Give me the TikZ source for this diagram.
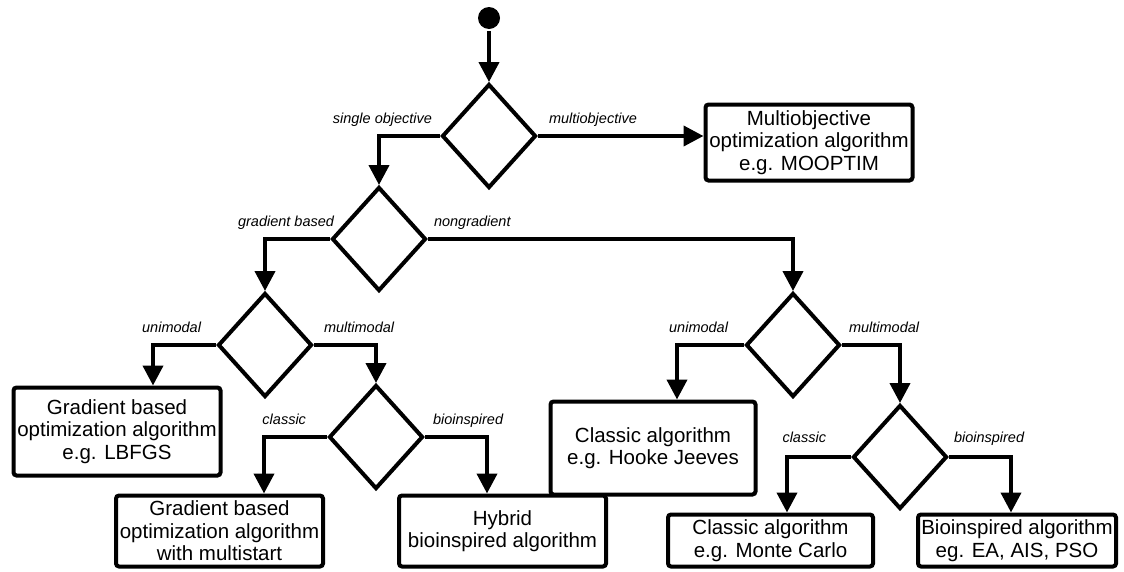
\documentclass[tikz,border=0pt]{standalone}
\usepackage{fontspec}
\setmainfont{Liberation Sans}
\usetikzlibrary{shapes.geometric,arrows.meta,positioning}

\begin{document}
\begin{tikzpicture}[x=1pt, y=-1pt, line width=4pt,
        decision/.style={diamond, draw, minimum width=94pt, minimum height=104pt, inner sep=0pt},
        algo/.style={rectangle, draw, rounded corners=3pt, align=center, inner sep=0pt,
            font=\fontsize{20.5}{22.5}\selectfont},
        branch/.style={font=\itshape\fontsize{14.5}{16}\selectfont, inner sep=0pt,
            text height=11pt, text depth=3.5pt},
        flow/.style={-{Triangle[length=20pt, width=20pt]}}]
    \useasboundingbox (0,0) rectangle (1124,571);

    % start and decisions
    \node[circle, fill, minimum size=22pt, inner sep=0pt] (start) at (489,18) {};
    \node[decision] (dobj) at (489,136) {};
    \node[decision] (dgrad) at (379,239) {};
    \node[decision] (dmodg) at (265,345) {};
    \node[decision] (dalgg) at (376,437) {};
    \node[decision] (dmodn) at (793,345) {};
    \node[decision] (dalgn) at (900,457) {};

    % algorithms
    \node[algo, minimum width=207pt, minimum height=76pt] (mo) at (809,142.5)
        {Multiobjective\\optimization algorithm\\e.g. MOOPTIM};
    \node[algo, minimum width=207pt, minimum height=88pt] (gl) at (117,431.5)
        {Gradient based\\optimization algorithm\\e.g. LBFGS};
    \node[algo, minimum width=207pt, minimum height=71pt] (gm) at (219.5,531)
        {Gradient based\\optimization algorithm\\with multistart};
    \node[algo, minimum width=207pt, minimum height=71pt] (hy) at (502.5,531)
        {Hybrid\\bioinspired algorithm};
    \node[algo, minimum width=205pt, minimum height=93pt] (hj) at (653,448)
        {Classic algorithm\\e.g. Hooke Jeeves};
    \node[algo, minimum width=205pt, minimum height=52pt] (mc) at (770.5,540.5)
        {Classic algorithm\\e.g. Monte Carlo};
    \node[algo, minimum width=198pt, minimum height=52pt] (bi) at (1017,540.5)
        {Bioinspired algorithm\\eg. EA, AIS, PSO};

    % arrow ends on the boxes
    \coordinate (moin) at (mo.west |- dobj.east);
    \coordinate (glin) at ([xshift=36pt]gl.north);
    \coordinate (gmin) at ([xshift=44.5pt]gm.north);
    \coordinate (hyin) at ([xshift=-15.5pt]hy.north);
    \coordinate (hjin) at ([xshift=24pt]hj.north);
    \coordinate (mcin) at ([xshift=16.5pt]mc.north);
    \coordinate (biin) at ([xshift=-6pt]bi.north);

    % connectors
    \draw[flow] (start) -- (dobj);
    \draw[flow] (dobj.west) -| (dgrad);
    \draw[flow] (dobj.east) -- (moin);
    \draw[flow] (dgrad.west) -| (dmodg);
    \draw[flow] (dgrad.east) -| (dmodn);
    \draw[flow] (dmodg.west) -| (glin);
    \draw[flow] (dmodg.east) -| (dalgg);
    \draw[flow] (dalgg.west) -| (gmin);
    \draw[flow] (dalgg.east) -| (hyin);
    \draw[flow] (dmodn.west) -| (hjin);
    \draw[flow] (dmodn.east) -| (dalgn);
    \draw[flow] (dalgn.west) -| (mcin);
    \draw[flow] (dalgn.east) -| (biin);

    % branch labels
    \node[branch, above left=7.5pt and 6pt of dobj.west] (lsingle) {single objective};
    \node[branch, above right=7.5pt and 9pt of dobj.east] (lmulti) {multiobjective};
    \node[branch, above left=7.5pt and -6pt of dgrad.west] (lgrad) {gradient based};
    \node[branch, above right=7.5pt and 4pt of dgrad.east] (lnongrad) {nongradient};
    \node[branch, above left=7.5pt and 13pt of dmodg.west] (lunig) {unimodal};
    \node[branch, above right=7.5pt and 8pt of dmodg.east] (lmultig) {multimodal};
    \node[branch, above left=7.5pt and 19pt of dalgg.west] (lclassg) {classic};
    \node[branch, above right=7.5pt and 6pt of dalgg.east] (lbiog) {bioinspired};
    \node[branch, above left=7.5pt and 14pt of dmodn.west] (lunin) {unimodal};
    \node[branch, above right=7.5pt and 5pt of dmodn.east] (lmultin) {multimodal};
    \node[branch, above left=9pt and 23pt of dalgn.west] (lclassn) {classic};
    \node[branch, above right=9pt and 3pt of dalgn.east] (lbion) {bioinspired};
\end{tikzpicture}
\end{document}
